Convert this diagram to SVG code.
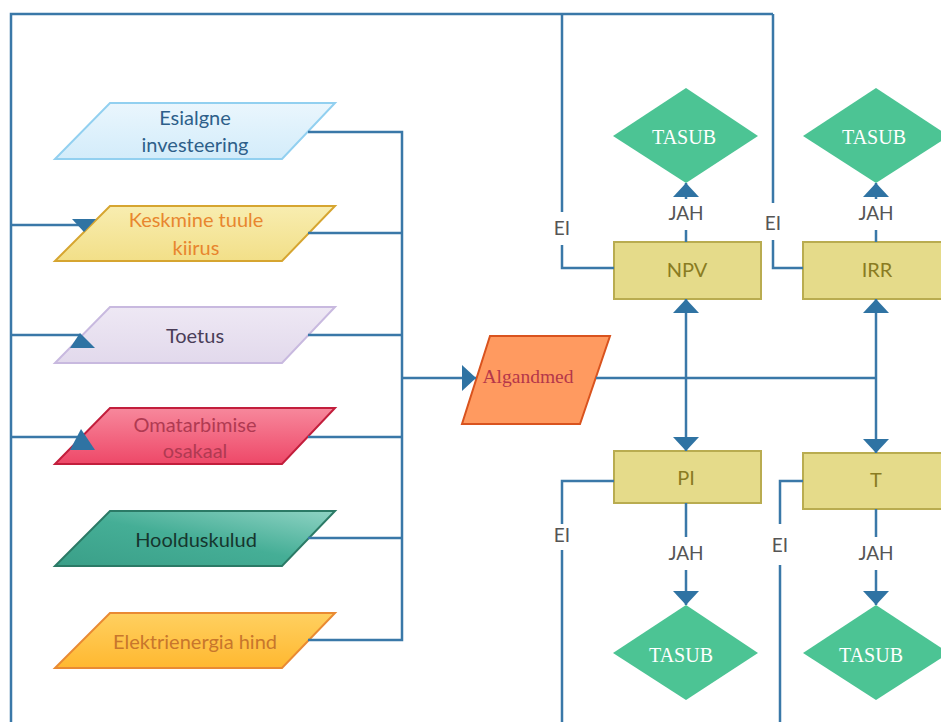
<svg xmlns="http://www.w3.org/2000/svg" width="941" height="722" viewBox="0 0 941 722">
<defs>
<marker id="ah" viewBox="0 0 14 26" refX="14" refY="13" markerWidth="14" markerHeight="26" markerUnits="userSpaceOnUse" orient="auto-start-reverse">
<path d="M0,0 L14,13 L0,26 Z" fill="#2F73A3"/>
</marker>
<linearGradient id="gBlue" x1="0" y1="0" x2="0" y2="1"><stop offset="0" stop-color="#EAF6FD"/><stop offset="1" stop-color="#D3ECFA"/></linearGradient>
<linearGradient id="gYel" x1="0" y1="0" x2="0" y2="1"><stop offset="0" stop-color="#F8EDB0"/><stop offset="1" stop-color="#F2DF88"/></linearGradient>
<linearGradient id="gLav" x1="0" y1="0" x2="0" y2="1"><stop offset="0" stop-color="#EEE8F4"/><stop offset="1" stop-color="#E2D9EC"/></linearGradient>
<linearGradient id="gPink" x1="0" y1="0" x2="0" y2="1"><stop offset="0" stop-color="#F7889C"/><stop offset="1" stop-color="#EE4868"/></linearGradient>
<linearGradient id="gTeal" x1="1" y1="0" x2="0" y2="1"><stop offset="0" stop-color="#8FD3C4"/><stop offset="0.5" stop-color="#45AE96"/><stop offset="1" stop-color="#3A9F88"/></linearGradient>
<linearGradient id="gOr" x1="0" y1="0" x2="0" y2="1"><stop offset="0" stop-color="#FFD060"/><stop offset="1" stop-color="#FFB830"/></linearGradient>
<style>
.lato{font-family:Lato,"Liberation Sans",sans-serif;font-size:20px;text-anchor:middle}
.serif{font-family:"Liberation Serif","DejaVu Serif",serif;text-anchor:middle}
.box{fill:#E5DB8A;stroke:#B9AC50;stroke-width:2}
.dia{fill:#4CC494}
.tas{fill:#FFFFFF;font-size:20px}
.lab{fill:#555555;font-family:Lato,"Liberation Sans",sans-serif;font-size:19px;text-anchor:middle}
.con{fill:none;stroke:#3A78A8;stroke-width:2.5}
.tri{fill:#2F73A3}
</style>
</defs>
<rect width="941" height="722" fill="#FFFFFF"/>

<g id="esialgne">
<polygon points="110,103 335,103 282,159 55,159" fill="url(#gBlue)" stroke="#92D0F0" stroke-width="2"/>
<text class="lato" x="195" y="125" fill="#2E5F8A">Esialgne</text>
<text class="lato" x="195" y="152" fill="#2E5F8A">investeering</text>
</g>
<g id="keskmine">
<polygon points="110,206 335,206 282,261 55,261" fill="url(#gYel)" stroke="#D6A530" stroke-width="2"/>
<text class="lato" x="196" y="227" fill="#E8862E">Keskmine tuule</text>
<text class="lato" x="196" y="255" fill="#E8862E">kiirus</text>
</g>
<g id="toetus">
<polygon points="110,307 335,307 282,363 55,363" fill="url(#gLav)" stroke="#C8B9DF" stroke-width="2"/>
<text class="lato" x="195" y="343" fill="#4A3D58">Toetus</text>
</g>
<g id="omatarbimise">
<polygon points="110,408 335,408 282,464 55,464" fill="url(#gPink)" stroke="#C21E3C" stroke-width="2"/>
<text class="lato" x="195" y="432" fill="#B03A52">Omatarbimise</text>
<text class="lato" x="195" y="458" fill="#B03A52">osakaal</text>
</g>
<g id="hoolduskulud">
<polygon points="110,511 335,511 282,566 55,566" fill="url(#gTeal)" stroke="#2B7A66" stroke-width="2"/>
<text class="lato" x="196" y="547" fill="#16362E">Hoolduskulud</text>
</g>
<g id="elektrienergia">
<polygon points="110,613 335,613 282,668 55,668" fill="url(#gOr)" stroke="#E98A33" stroke-width="2"/>
<text class="lato" x="195" y="649" fill="#C8762C">Elektrienergia hind</text>
</g>
<g id="algandmed">
<polygon points="490,336 610,336 580,424 462,424" fill="#FF9A60" stroke="#D9531E" stroke-width="2"/>
<text class="serif" x="528" y="383" font-size="19.5" fill="#B5374A">Algandmed</text>
</g>
<g id="npv">
<rect class="box" x="614" y="242" width="147" height="57"/>
<text class="lato" x="687" y="277" fill="#8A7C22">NPV</text>
</g>
<g id="irr">
<rect class="box" x="803" y="242" width="147" height="57"/>
<text class="lato" x="877" y="277" fill="#8A7C22">IRR</text>
</g>
<g id="pi">
<rect class="box" x="614" y="451" width="147" height="52"/>
<text class="lato" x="686" y="485" fill="#8A7C22">PI</text>
</g>
<g id="t">
<rect class="box" x="803" y="453" width="147" height="56"/>
<text class="lato" x="876" y="487" fill="#8A7C22">T</text>
</g>
<g id="tasub-npv">
<polygon class="dia" points="686,88 758,136 686,183 613,136"/>
<text class="serif tas" x="684" y="144">TASUB</text>
</g>
<g id="tasub-irr">
<polygon class="dia" points="876,88 949,136 876,183 803,136"/>
<text class="serif tas" x="874" y="144">TASUB</text>
</g>
<g id="tasub-pi">
<polygon class="dia" points="686,605 758,653 686,700 613,653"/>
<text class="serif tas" x="681" y="662">TASUB</text>
</g>
<g id="tasub-t">
<polygon class="dia" points="876,605 949,653 876,700 803,653"/>
<text class="serif tas" x="871" y="662">TASUB</text>
</g>

<g id="connectors">
<path class="con" d="M308,132 H402 V640 H308"/>
<path class="con" d="M308,233 H402"/>
<path class="con" d="M308,335 H402"/>
<path class="con" d="M308,437 H402"/>
<path class="con" d="M308,538 H402"/>
<path class="con" d="M402,378 H476" marker-end="url(#ah)"/>
<path class="con" d="M11,722 V14 H773"/>
<path class="con" d="M11,225 H80"/>
<path class="con" d="M11,335 H80"/>
<path class="con" d="M11,437 H80"/>
<polygon class="tri" points="72,219 96,219 84,232"/>
<polygon class="tri" points="80,333 95,348 70,348"/>
<polygon class="tri" points="81,429 95,450 70,450"/>
<path class="con" d="M562,14 V212 M562,245 V268 H614"/>
<path class="con" d="M773,14 V203 M773,240 V268 H803"/>
<path class="con" d="M596,378 H876"/>
<path class="con" d="M686,299 V451" marker-start="url(#ah)" marker-end="url(#ah)"/>
<path class="con" d="M876,299 V453" marker-start="url(#ah)" marker-end="url(#ah)"/>
<path class="con" d="M686,242 V230 M686,199 V183" marker-end="url(#ah)"/>
<path class="con" d="M876,242 V230 M876,199 V183" marker-end="url(#ah)"/>
<path class="con" d="M686,503 V537 M686,570 V605" marker-end="url(#ah)"/>
<path class="con" d="M876,509 V537 M876,570 V605" marker-end="url(#ah)"/>
<path class="con" d="M614,481 H562 V524 M562,550 V722"/>
<path class="con" d="M803,481 H780 V524 M780,565 V722"/>
</g>
<g id="labels">
<text class="lab" x="686" y="220">JAH</text>
<text class="lab" x="876" y="220">JAH</text>
<text class="lab" x="562" y="235">EI</text>
<text class="lab" x="773" y="230">EI</text>
<text class="lab" x="686" y="560">JAH</text>
<text class="lab" x="876" y="560">JAH</text>
<text class="lab" x="562" y="542">EI</text>
<text class="lab" x="780" y="552">EI</text>
</g>
</svg>
